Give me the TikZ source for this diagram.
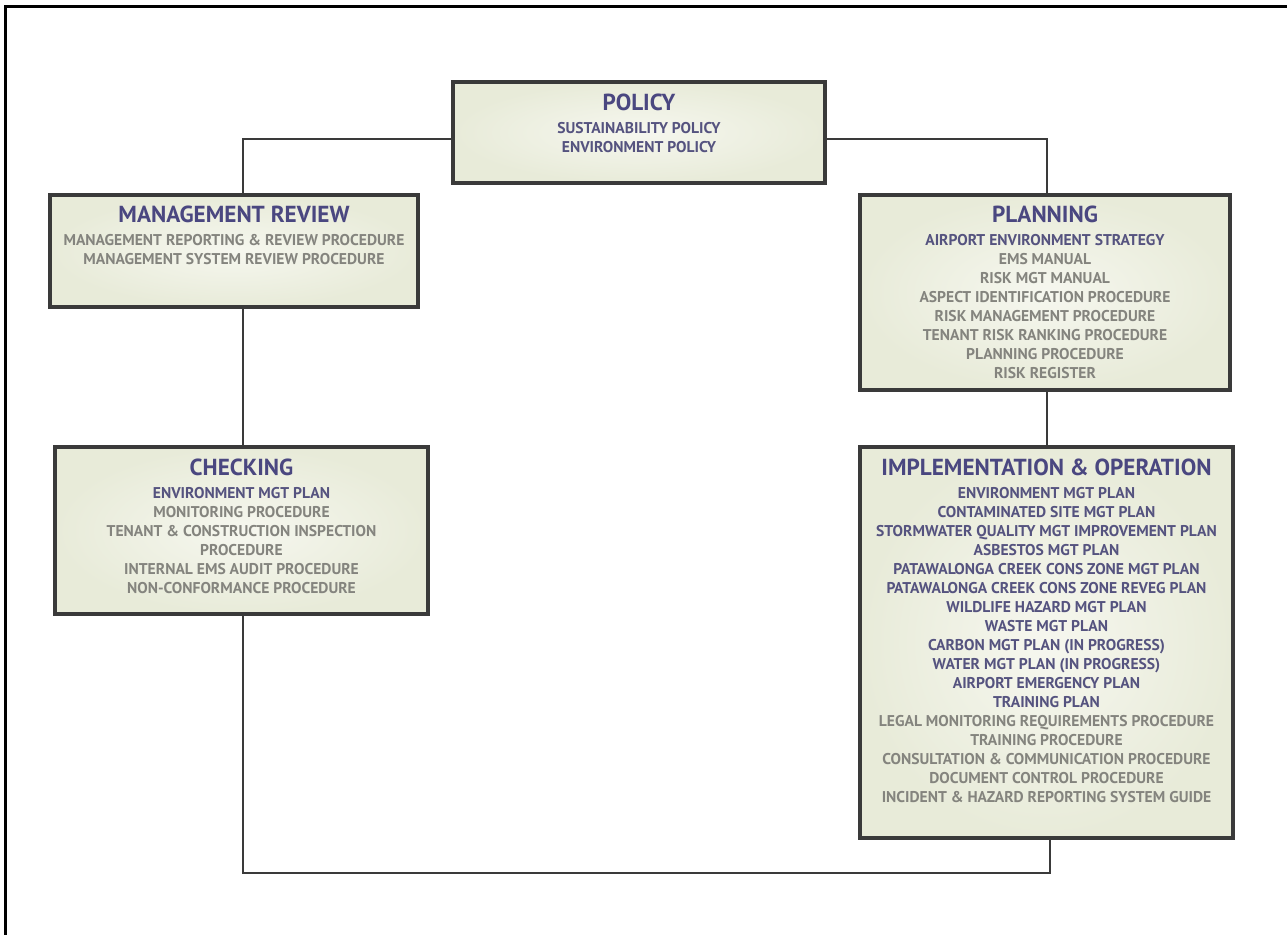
\documentclass[tikz,border=0pt]{standalone}
\usepackage{fontspec}
\setmainfont{PT Sans}

\definecolor{heading}{HTML}{4A4780}
\definecolor{plan}{HTML}{55537F}
\definecolor{proc}{HTML}{84847E}
\definecolor{boxline}{HTML}{3A3A3A}
\definecolor{boxin}{HTML}{F6F7EF}
\definecolor{boxout}{HTML}{E8EBD9}

\newcommand{\stagename}[1]{{\fontsize{11.6}{12}\selectfont\color{heading}#1}}
\newcommand{\docplan}[1]{{\color{plan}#1}}

\begin{document}
\begin{tikzpicture}[x=0.5pt, y=-0.5pt,
    stage/.style ={draw=boxline, line width=1.75pt, inner color=boxin, outer color=boxout, inner sep=0pt},
    contents/.style ={anchor=north, align=center, inner sep=0pt, text=proc,
        font=\fontsize{7.8}{9.5}\selectfont\bfseries},
    link/.style ={draw=boxline, line width=1pt}]
   \useasboundingbox (0,0) rectangle (1287,935);

   % page frame
   \draw[line width=1.5pt] (5.5,935) -- (5.5,7) -- (1287,7);

   \coordinate (westrail) at (243,0);
   \coordinate (eastrail) at (1047,0);
   \coordinate (lowrail) at (1050,873);

   \node[stage, minimum width=186pt, minimum height=50.5pt] (policy) at (639,132.5) {};
   \node[stage, minimum width=184pt, minimum height=56pt] (review) at (234,251) {};
   \node[stage, minimum width=185pt, minimum height=97.5pt] (planning) at (1045,292.5) {};
   \node[stage, minimum width=186.5pt, minimum height=83.5pt] (checking) at (241.5,530.5) {};
   \node[stage, minimum width=186.5pt, minimum height=195.5pt] (impl) at (1046.5,642.5) {};

   \draw[link] ([yshift=-3.25pt]policy.west) -| (review.north -| westrail);
   \draw[link] ([yshift=-3.25pt]policy.east) -| (planning.north -| eastrail);
   \draw[link] (review.south -| westrail) -- (checking.north -| westrail);
   \draw[link] (planning.south -| eastrail) -- (impl.north -| eastrail);
   \draw[link] (impl.south -| lowrail) |- (lowrail -| westrail) -- (checking.south -| westrail);

   \node[contents] (policytext) at ([yshift=-6.5pt]policy.north) {\stagename{POLICY}\\[2pt]
      \docplan{SUSTAINABILITY POLICY}\\
      \docplan{ENVIRONMENT POLICY}};

   \node[contents] (reviewtext) at ([yshift=-6pt]review.north) {\stagename{MANAGEMENT REVIEW}\\[2pt]
      MANAGEMENT REPORTING \& REVIEW PROCEDURE\\
      MANAGEMENT SYSTEM REVIEW PROCEDURE};

   \node[contents] (planningtext) at ([yshift=-6pt]planning.north) {\stagename{PLANNING}\\[2pt]
      \docplan{AIRPORT ENVIRONMENT STRATEGY}\\
      EMS MANUAL\\
      RISK MGT MANUAL\\
      ASPECT IDENTIFICATION PROCEDURE\\
      RISK MANAGEMENT PROCEDURE\\
      TENANT RISK RANKING PROCEDURE\\
      PLANNING PROCEDURE\\
      RISK REGISTER};

   \node[contents] (checkingtext) at ([yshift=-6.5pt]checking.north) {\stagename{CHECKING}\\[2pt]
      \docplan{ENVIRONMENT MGT PLAN}\\
      MONITORING PROCEDURE\\
      TENANT \& CONSTRUCTION INSPECTION\\
      PROCEDURE\\
      INTERNAL EMS AUDIT PROCEDURE\\
      NON-CONFORMANCE PROCEDURE};

   \node[contents] (impltext) at ([yshift=-6.5pt]impl.north) {\stagename{IMPLEMENTATION \& OPERATION}\\[2pt]
      \docplan{ENVIRONMENT MGT PLAN}\\
      \docplan{CONTAMINATED SITE MGT PLAN}\\
      \docplan{STORMWATER QUALITY MGT IMPROVEMENT PLAN}\\
      \docplan{ASBESTOS MGT PLAN}\\
      \docplan{PATAWALONGA CREEK CONS ZONE MGT PLAN}\\
      \docplan{PATAWALONGA CREEK CONS ZONE REVEG PLAN}\\
      \docplan{WILDLIFE HAZARD MGT PLAN}\\
      \docplan{WASTE MGT PLAN}\\
      \docplan{CARBON MGT PLAN (IN PROGRESS)}\\
      \docplan{WATER MGT PLAN (IN PROGRESS)}\\
      \docplan{AIRPORT EMERGENCY PLAN}\\
      \docplan{TRAINING PLAN}\\
      LEGAL MONITORING REQUIREMENTS PROCEDURE\\
      TRAINING PROCEDURE\\
      CONSULTATION \& COMMUNICATION PROCEDURE\\
      DOCUMENT CONTROL PROCEDURE\\
      INCIDENT \& HAZARD REPORTING SYSTEM GUIDE};
\end{tikzpicture}
\end{document}
